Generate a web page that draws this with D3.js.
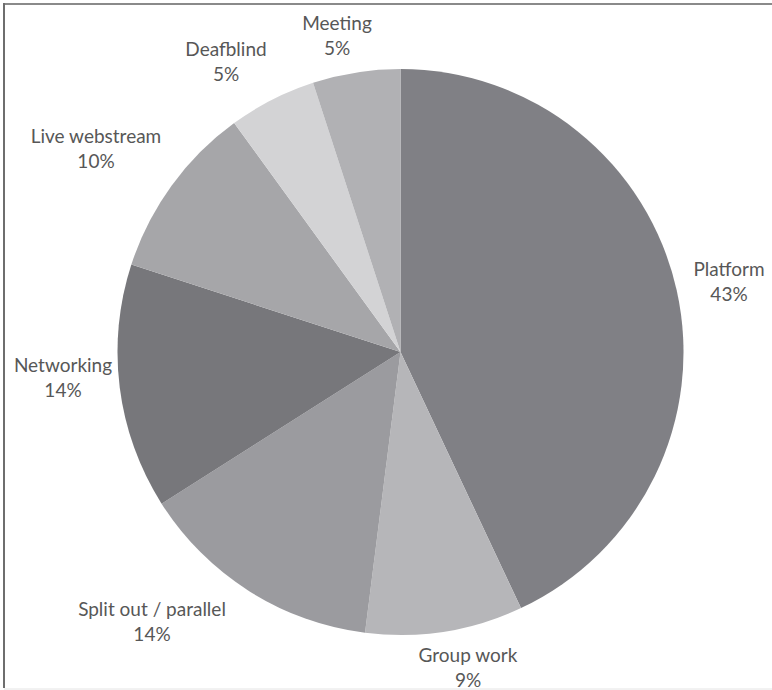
<!DOCTYPE html>
<html>
<head>
<meta charset="utf-8">
<script src="https://cdn.jsdelivr.net/npm/d3@7"></script>
<style>
  html, body { margin: 0; padding: 0; background: #fff; }
  svg { display: block; }
  text { font-family: Lato, "Open Sans", sans-serif; }
</style>
</head>
<body>
<svg id="chart" width="772" height="690"></svg>
<script>
// Session formats, share of sessions (%), clockwise from 12 o'clock
const categories = ["Platform", "Group work", "Split out / parallel", "Networking", "Live webstream", "Deafblind", "Meeting"];
const shares = [43, 9, 14, 14, 10, 5, 5];
const sliceColors = ["#808085", "#b6b6b9", "#9b9b9f", "#77777b", "#a6a6a9", "#d3d3d5", "#b1b1b4"];

// label anchor points (centre of the two-line label)
const labelPos = [
  [729, 282], [468, 668], [152, 622], [63, 378], [96, 149], [226, 62], [337, 36]
];

const svg = d3.select("#chart");
const W = 772, H = 690;

// frame
svg.append("line").attr("x1", 3).attr("x2", W).attr("y1", 4).attr("y2", 4)
  .attr("stroke", "#8a8a8a").attr("stroke-width", 2);
svg.append("line").attr("x1", 4).attr("x2", 4).attr("y1", 3).attr("y2", 688)
  .attr("stroke", "#6e6e6e").attr("stroke-width", 2);
svg.append("line").attr("x1", 4).attr("x2", W).attr("y1", 689).attr("y2", 689)
  .attr("stroke", "#e4e4e4").attr("stroke-width", 1);

const cx = 400.5, cy = 352, r = 283;
const data = categories.map((c, i) => ({ name: c, value: shares[i], color: sliceColors[i], pos: labelPos[i] }));

const pie = d3.pie().value(d => d.value).sort(null);
const arc = d3.arc().innerRadius(0).outerRadius(r);

const g = svg.append("g").attr("transform", `translate(${cx},${cy})`);
g.selectAll("path").data(pie(data)).join("path")
  .attr("d", arc)
  .attr("fill", d => d.data.color);

const labels = svg.append("g").selectAll("text").data(data).join("text")
  .attr("text-anchor", "middle")
  .attr("fill", "#575757")
  .attr("font-size", 19);
labels.append("tspan").attr("x", d => d.pos[0]).attr("y", d => d.pos[1] - 6).text(d => d.name);
labels.append("tspan").attr("x", d => d.pos[0]).attr("y", d => d.pos[1] + 19).text(d => d.value + "%");
</script>
</body>
</html>
